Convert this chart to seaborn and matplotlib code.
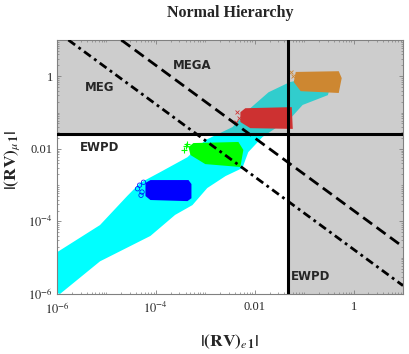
import numpy as np
import seaborn as sns
import matplotlib.pyplot as plt
from matplotlib.ticker import FixedLocator, NullFormatter

# ---- data (log10 values) ----
# outlines of the scan regions
cyan_lx = [-6.0, -6.0, -5.13, -4.58, -4.32, -3.91, -3.36, -3.0, -2.45, -2.09, -1.72, -1.29, -1.07, -0.46,
           -0.52, -1.03, -1.27, -1.84, -2.13, -2.25, -2.59, -2.96, -3.26, -3.61, -4.11, -5.13, -5.94]
cyan_ly = [-5.97, -4.85, -4.10, -3.30, -2.94, -2.64, -2.23, -1.76, -1.40, -0.88, -0.44, -0.16, -0.10, -0.24,
           -0.52, -0.79, -1.15, -1.67, -2.09, -2.53, -2.75, -3.08, -3.55, -3.82, -4.40, -5.10, -6.0]
blue_lx = [-4.21, -4.11, -3.34, -3.28, -3.28, -3.36, -4.11, -4.21]
blue_ly = [-2.94, -2.86, -2.86, -2.97, -3.36, -3.44, -3.41, -3.30]
green_lx = [-3.24, -2.33, -2.23, -2.29, -3.0, -3.30, -3.34]
green_ly = [-1.84, -1.81, -2.03, -2.50, -2.42, -2.17, -1.95]
red_lx = [-2.19, -1.25, -1.23, -2.09, -2.29, -2.29]
red_ly = [-0.88, -0.85, -1.45, -1.43, -1.26, -0.99]
orange_lx = [-1.17, -0.30, -0.24, -0.30, -1.07, -1.21]
orange_ly = [0.12, 0.14, -0.05, -0.46, -0.41, -0.16]

# stray points at the edges of the dense blobs
blue_pts_lx = [-4.33, -4.28, -4.37, -4.25, -4.30]
blue_pts_ly = [-3.0, -3.19, -3.10, -2.92, -3.28]
green_pts_lx = [-3.40, -3.44, -3.37]
green_pts_ly = [-1.92, -2.03, -1.86]
red_pts_lx = [-2.35, -2.31, -2.37]
red_pts_ly = [-0.99, -1.15, -1.26]
orange_pts_lx = [-1.27, -1.23]
orange_pts_ly = [0.12, 0.0]

# bounds
ewpd_mu = 0.026
ewpd_e = 0.047
mega_x = [2.0e-5, 10]
mega_y = [10, 2.0e-5]
meg_x = [1.7e-6, 10]
meg_y = [10, 1.7e-6]

sns.set_style("ticks")
plt.rcParams['font.family'] = ['Liberation Serif', 'DejaVu Serif']
plt.rcParams['mathtext.fontset'] = 'stix'

fig = plt.figure(figsize=(4.09, 3.54), dpi=100)
ax = fig.add_axes([57/409, 60/354, 346/409, 254/354])
ax.set_xscale('log')
ax.set_yscale('log')
ax.set_xlim(1e-6, 10)
ax.set_ylim(1e-6, 10)

def p(l):
    return 10 ** np.array(l)

ax.fill(p(cyan_lx), p(cyan_ly), color='#00ffff', lw=0, zorder=1)
ax.fill(p(blue_lx), p(blue_ly), color='#0000ff', lw=0, zorder=2)
ax.fill(p(green_lx), p(green_ly), color='#00ff00', lw=0, zorder=2)
ax.fill(p(red_lx), p(red_ly), color='#ff0000', lw=0, zorder=2)
ax.fill(p(orange_lx), p(orange_ly), color='#ff8c00', lw=0, zorder=2)

sns.scatterplot(x=p(blue_pts_lx), y=p(blue_pts_ly), marker='o', s=10, facecolor='none',
                edgecolor='#0000ff', linewidth=0.5, ax=ax, zorder=2)
sns.scatterplot(x=p(green_pts_lx), y=p(green_pts_ly), marker='+', s=16, color='#00ff00',
                linewidth=0.8, ax=ax, zorder=2)
sns.scatterplot(x=p(red_pts_lx), y=p(red_pts_ly), marker='x', s=8, color='#ff0000',
                linewidth=0.6, ax=ax, zorder=2)
sns.scatterplot(x=p(orange_pts_lx), y=p(orange_pts_ly), marker='x', s=8, color='#ff8c00',
                linewidth=0.6, ax=ax, zorder=2)

# excluded region (translucent grey on top of the points)
ex_x = [1e-6, ewpd_e, ewpd_e, 10, 10, 1e-6]
ex_y = [ewpd_mu, ewpd_mu, 1e-6, 1e-6, 10, 10]
ax.fill(ex_x, ex_y, color='#808080', alpha=0.39, lw=0, zorder=3)

ax.axhline(ewpd_mu, color='k', lw=2.2, zorder=4)
ax.axvline(ewpd_e, color='k', lw=2.2, zorder=4)
sns.lineplot(x=mega_x, y=mega_y, color='k', lw=2.0, ax=ax, zorder=4)
ax.lines[-1].set_dashes([4, 2])
sns.lineplot(x=meg_x, y=meg_y, color='k', lw=2.0, ax=ax, zorder=4)
ax.lines[-1].set_dashes([3, 1.5, 1, 1.5])

lab = dict(fontsize=8.5, fontweight='bold', family='DejaVu Sans', ha='center', va='center', zorder=5)
ax.text(10**-5.13, 10**-0.30, 'MEG', **lab)
ax.text(10**-3.26, 10**0.31, 'MEGA', **lab)
ax.text(10**-5.13, 10**-1.95, 'EWPD', **lab)
ax.text(10**-0.87, 10**-5.53, 'EWPD', **lab)

ticks = [1e-6, 1e-4, 1e-2, 1]
tick_labels = ['$10^{-6}$', '$10^{-4}$', '0.01', '1']
ax.set_xticks(ticks)
ax.set_xticklabels(tick_labels)
ax.set_yticks(ticks)
ax.set_yticklabels(tick_labels)
minors = [m * 10.0**e for e in range(-6, 1) for m in range(1, 10)]
ax.xaxis.set_minor_locator(FixedLocator(minors))
ax.yaxis.set_minor_locator(FixedLocator(minors))
ax.xaxis.set_minor_formatter(NullFormatter())
ax.yaxis.set_minor_formatter(NullFormatter())
ax.tick_params(which='both', direction='in', top=True, right=True, color='#808080',
               labelsize=9)
ax.tick_params(axis='x', pad=5)
ax.tick_params(axis='y', pad=3)
ax.tick_params(which='major', length=3, width=0.6)
ax.tick_params(which='minor', length=1.5, width=0.5)
for s in ax.spines.values():
    s.set_color('#808080')
    s.set_linewidth(0.8)

fig.text(230/409, 1 - 13/354, 'Normal Hierarchy', ha='center', va='center',
         fontsize=11.5, fontweight='bold')
fig.text(230/409, 1 - 342/354, r'$\mathbf{|(RV)}_{e\,\mathbf{1}}\mathbf{|}$', ha='center',
         va='center', fontsize=12.5)
fig.text(12/409, 1 - 160/354, r'$\mathbf{|(RV)}_{\mu\,\mathbf{1}}\mathbf{|}$', ha='center',
         va='center', fontsize=12.5, rotation=90)

fig.savefig('out.png', dpi=100)
